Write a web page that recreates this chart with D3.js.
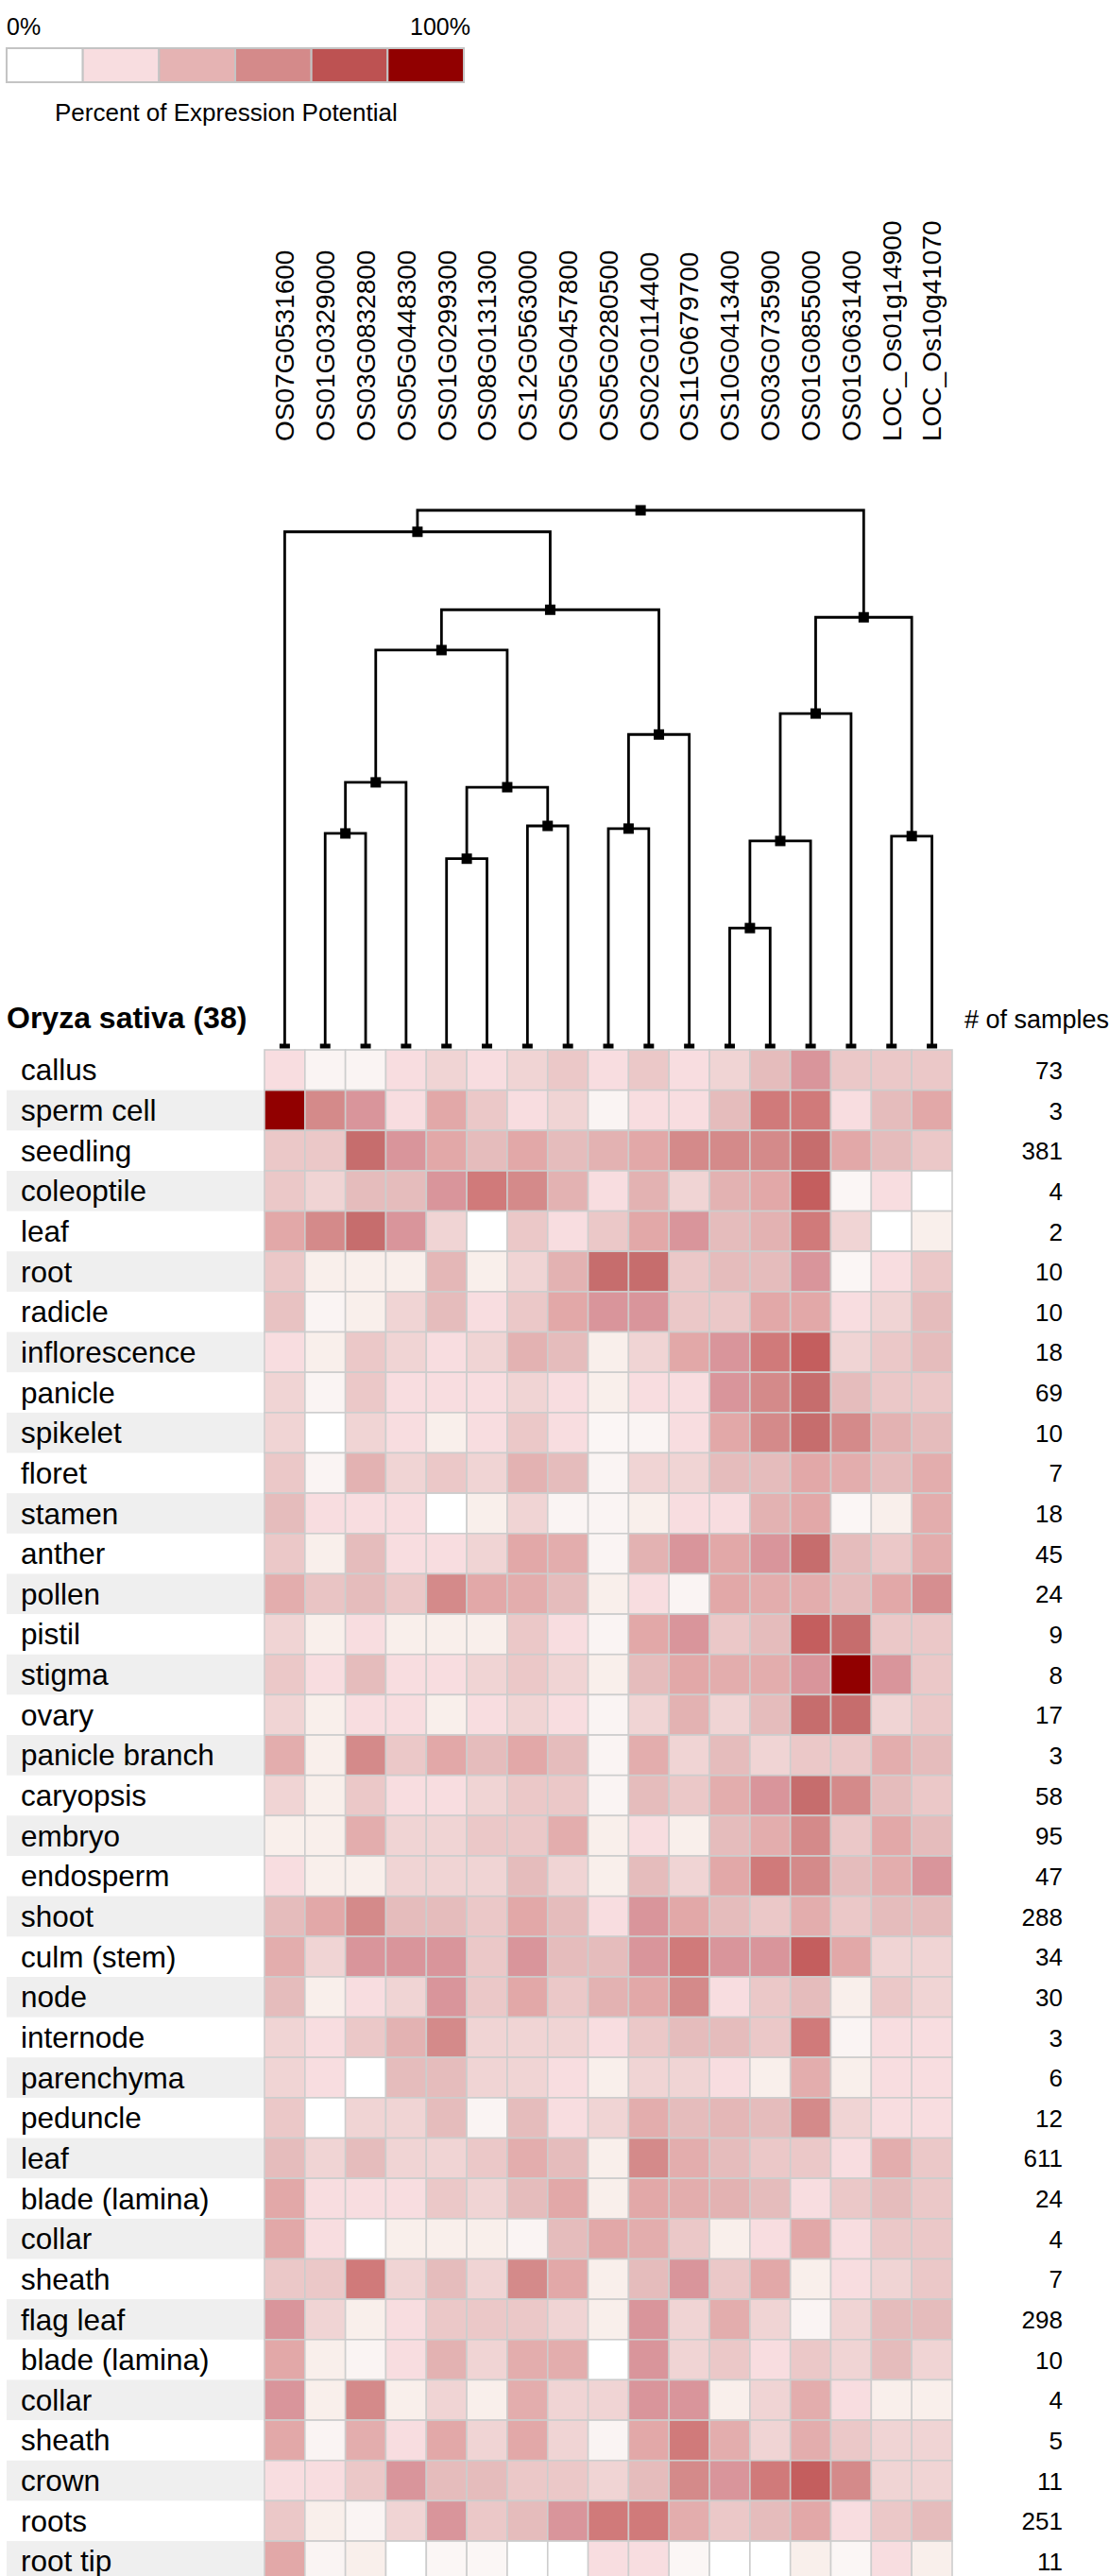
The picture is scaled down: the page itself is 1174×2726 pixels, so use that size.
<!DOCTYPE html>
<html>
<head>
<meta charset="utf-8">
<script src="https://cdn.jsdelivr.net/npm/d3@7"></script>
<style>
  body { margin: 0; background: #fff; }
  text { font-family: "Liberation Sans", Arial, sans-serif; fill: #000; }
</style>
</head>
<body>
<svg id="chart"></svg>
<script>
// genes (columns), in dendrogram order
var genes = ["OS07G0531600", "OS01G0329000", "OS03G0832800", "OS05G0448300", "OS01G0299300",
             "OS08G0131300", "OS12G0563000", "OS05G0457800", "OS05G0280500", "OS02G0114400",
             "OS11G0679700", "OS10G0413400", "OS03G0735900", "OS01G0855000", "OS01G0631400",
             "LOC_Os01g14900", "LOC_Os10g41070"];

var tissues = ["callus", "sperm cell", "seedling", "coleoptile", "leaf", "root", "radicle",
               "inflorescence", "panicle", "spikelet", "floret", "stamen", "anther", "pollen",
               "pistil", "stigma", "ovary", "panicle branch", "caryopsis", "embryo", "endosperm",
               "shoot", "culm (stem)", "node", "internode", "parenchyma", "peduncle", "leaf",
               "blade (lamina)", "collar", "sheath", "flag leaf", "blade (lamina)", "collar",
               "sheath", "crown", "roots", "root tip"];

var sampleCounts = [73, 3, 381, 4, 2, 10, 10, 18, 69, 10, 7, 18, 45, 24, 9, 8, 17, 3, 58, 95,
                    47, 288, 34, 30, 3, 6, 12, 611, 24, 4, 7, 298, 10, 4, 5, 11, 251, 11];

// percent of expression potential, one row per tissue
var expression = [
  [18, 5, 5, 18, 25, 18, 25, 30, 18, 30, 18, 25, 36, 52, 30, 30, 30],
  [100, 58, 52, 18, 44, 30, 18, 25, 5, 18, 18, 36, 66, 66, 18, 36, 44],
  [30, 30, 72, 52, 44, 36, 44, 36, 40, 44, 58, 58, 58, 72, 44, 36, 30],
  [30, 25, 36, 36, 52, 66, 58, 40, 18, 40, 25, 40, 44, 77, 4, 18, 0],
  [44, 58, 72, 52, 25, 0, 30, 18, 30, 44, 52, 36, 40, 66, 25, 0, 8],
  [30, 8, 8, 8, 38, 8, 25, 40, 72, 72, 30, 36, 36, 52, 4, 18, 30],
  [33, 5, 8, 25, 36, 18, 30, 44, 52, 52, 30, 30, 44, 44, 18, 25, 36],
  [18, 8, 30, 25, 18, 25, 40, 36, 8, 25, 44, 52, 66, 77, 25, 30, 36],
  [25, 5, 30, 18, 18, 18, 25, 18, 8, 18, 18, 52, 58, 72, 36, 30, 30],
  [25, 0, 25, 18, 8, 18, 30, 18, 4, 5, 18, 44, 58, 72, 58, 40, 36],
  [30, 5, 40, 25, 30, 25, 40, 36, 5, 25, 25, 36, 36, 44, 42, 36, 42],
  [36, 18, 18, 18, 0, 8, 25, 5, 5, 8, 18, 18, 40, 44, 4, 8, 42],
  [30, 8, 36, 18, 18, 25, 44, 42, 5, 40, 52, 44, 52, 72, 36, 30, 42],
  [42, 32, 36, 30, 58, 44, 42, 36, 8, 18, 5, 44, 42, 42, 36, 44, 56],
  [25, 8, 18, 8, 8, 8, 30, 18, 5, 44, 52, 30, 36, 77, 72, 30, 30],
  [30, 18, 36, 18, 18, 25, 30, 25, 8, 36, 44, 42, 42, 52, 100, 52, 30],
  [25, 8, 18, 18, 8, 18, 25, 18, 5, 25, 40, 25, 36, 72, 72, 25, 30],
  [42, 8, 58, 30, 44, 36, 44, 36, 5, 42, 25, 36, 25, 30, 30, 42, 36],
  [25, 8, 30, 18, 18, 25, 30, 30, 5, 36, 30, 42, 52, 72, 58, 36, 30],
  [8, 8, 42, 25, 25, 30, 30, 42, 8, 18, 8, 36, 42, 58, 30, 44, 36],
  [18, 8, 8, 25, 25, 25, 36, 25, 8, 36, 25, 44, 66, 58, 36, 42, 52],
  [36, 44, 58, 36, 36, 30, 44, 36, 18, 52, 44, 36, 30, 42, 30, 36, 36],
  [42, 25, 52, 52, 52, 30, 52, 36, 36, 52, 66, 52, 52, 77, 44, 25, 25],
  [36, 8, 18, 25, 52, 30, 44, 30, 40, 44, 58, 18, 30, 36, 8, 30, 25],
  [25, 18, 30, 40, 58, 25, 25, 25, 18, 30, 36, 36, 30, 66, 5, 18, 18],
  [25, 18, 0, 36, 36, 25, 25, 18, 8, 25, 25, 18, 8, 42, 8, 18, 18],
  [30, 0, 25, 25, 36, 5, 36, 18, 25, 42, 36, 38, 36, 58, 25, 18, 18],
  [36, 25, 36, 25, 25, 30, 42, 36, 8, 58, 42, 36, 30, 30, 18, 42, 30],
  [44, 18, 18, 18, 30, 25, 36, 44, 8, 44, 42, 40, 36, 18, 30, 36, 30],
  [44, 18, 0, 8, 8, 8, 5, 36, 44, 42, 30, 8, 18, 44, 18, 30, 30],
  [30, 30, 66, 25, 36, 25, 58, 44, 8, 36, 52, 30, 44, 8, 18, 25, 30],
  [52, 25, 8, 18, 30, 30, 30, 25, 8, 52, 25, 42, 25, 5, 25, 36, 36],
  [44, 8, 5, 18, 40, 25, 42, 42, 0, 52, 25, 30, 18, 30, 25, 36, 25],
  [52, 8, 58, 8, 25, 8, 42, 25, 25, 52, 52, 8, 25, 42, 18, 8, 8],
  [44, 5, 42, 18, 44, 25, 44, 25, 5, 44, 66, 42, 25, 42, 30, 25, 25],
  [18, 18, 30, 52, 36, 36, 30, 30, 25, 36, 58, 52, 66, 77, 58, 25, 25],
  [30, 8, 5, 25, 52, 30, 36, 52, 66, 66, 42, 30, 36, 44, 18, 30, 36],
  [44, 5, 8, 0, 4, 4, 0, 0, 18, 18, 4, 0, 0, 8, 4, 18, 8]
];

// hclust style merges: negative = leaf (gene index + 1), positive = earlier merge step
var mergeLeft   = [-12, -5, 1, -16, -2, -9, -7, 2, 5, 6, 3, 9, 11, 12, -1, 15];
var mergeRight  = [-13, -6, -14, -17, -3, -10, -8, 7, -4, -11, -15, 8, 4, 10, 14, 13];
var mergeHeight = [0.223, 0.352, 0.385, 0.394, 0.399, 0.408, 0.413, 0.485, 0.494,
                   0.583, 0.622, 0.74, 0.801, 0.815, 0.96, 1.0];

var legendLabels = ["0%", "100%"];
var legendColors = ["#ffffff", "#f8dde0", "#e5b3b3", "#d48a8a", "#bd5252", "#910000"];

var width = 1174, height = 2726;
var gridTop = 1111, rowH = 42.65;

var svg = d3.select("#chart").attr("width", width).attr("height", height);

var color = d3.scaleLinear()
    .domain([0, 5, 10, 18, 25, 30, 36, 40, 44, 52, 58, 66, 72, 77, 100])
    .range(["#ffffff", "#faf4f3", "#f8ebe6", "#f8dde0", "#f0d4d4", "#ebc8c8", "#e5bcbc", "#e3b2b2",
            "#e2a8a8", "#d9959b", "#d48a8a", "#d07a7a", "#c66d6d", "#c45e5e", "#910000"]);

var x = d3.scaleBand().domain(genes).range([280, 1008]);
var y = d3.scaleBand().domain(d3.range(tissues.length))
    .range([gridTop, gridTop + tissues.length * rowH]);
var yd = d3.scaleLinear().domain([0, 1]).range([1109, 540]);

// legend
var lx = d3.scaleBand().domain(d3.range(legendColors.length)).range([7, 491]);
svg.selectAll(".leg").data(legendColors).enter().append("rect")
    .attr("x", function(d, i) { return lx(i); })
    .attr("y", 51)
    .attr("width", lx.bandwidth())
    .attr("height", 36)
    .attr("fill", function(d) { return d; })
    .attr("stroke", "#c4c4c4")
    .attr("stroke-width", 2);
svg.append("text").attr("x", 7).attr("y", 37).style("font-size", "25px").text(legendLabels[0]);
svg.append("text").attr("x", 498).attr("y", 37).attr("text-anchor", "end")
    .style("font-size", "25px").text(legendLabels[1]);
svg.append("text").attr("x", 58).attr("y", 128).style("font-size", "26px")
    .text("Percent of Expression Potential");

// column labels
svg.selectAll(".gene").data(genes).enter().append("text")
    .attr("transform", function(d) {
      return "translate(" + (x(d) + x.bandwidth() / 2) + ",467) rotate(-90)";
    })
    .attr("dy", "0.35em")
    .style("font-size", "28px")
    .text(function(d) { return d; });

// dendrogram
var nodes = [];
function nx(ref) { return ref < 0 ? x(genes[-ref - 1]) + x.bandwidth() / 2 : nodes[ref].x; }
function ny(ref) { return ref < 0 ? yd(0) : nodes[ref].y; }
mergeHeight.forEach(function(h, i) {
  var l = mergeLeft[i], r = mergeRight[i];
  nodes[i + 1] = {x: (nx(l) + nx(r)) / 2, y: yd(h), l: l, r: r};
});
var dendro = svg.append("g");
nodes.slice(1).forEach(function(n) {
  dendro.append("path")
      .attr("d", "M" + nx(n.l) + "," + ny(n.l) + "V" + n.y + "H" + nx(n.r) + "V" + ny(n.r))
      .attr("fill", "none")
      .attr("stroke", "#000")
      .attr("stroke-width", 2.8);
});
dendro.selectAll(".node").data(nodes.slice(1)).enter().append("rect")
    .attr("x", function(d) { return d.x - 5.5; })
    .attr("y", function(d) { return d.y - 5.5; })
    .attr("width", 11).attr("height", 11)
    .attr("fill", "#000");
dendro.selectAll(".leaf").data(genes).enter().append("rect")
    .attr("x", function(d) { return x(d) + x.bandwidth() / 2 - 5.5; })
    .attr("y", 1104.5)
    .attr("width", 11).attr("height", 5)
    .attr("fill", "#000");

// headers
svg.append("text").attr("x", 7).attr("y", 1088)
    .style("font-size", "32px").style("font-weight", "bold").text("Oryza sativa (38)");
svg.append("text").attr("x", 1021).attr("y", 1088).style("font-size", "27px").text("# of samples");

// row stripes
svg.selectAll(".stripe").data(d3.range(tissues.length).filter(function(i) { return i % 2 == 1; }))
  .enter().append("rect")
    .attr("x", 7).attr("y", function(i) { return y(i); })
    .attr("width", 273).attr("height", rowH)
    .attr("fill", "#efefef");

// row labels and counts
svg.selectAll(".tissue").data(tissues).enter().append("text")
    .attr("x", 22)
    .attr("y", function(d, i) { return y(i) + rowH / 2; })
    .attr("dy", "0.35em")
    .style("font-size", "31.5px")
    .text(function(d) { return d; });
svg.selectAll(".count").data(sampleCounts).enter().append("text")
    .attr("x", 1125)
    .attr("y", function(d, i) { return y(i) + rowH / 2; })
    .attr("dy", "0.37em")
    .attr("text-anchor", "end")
    .style("font-size", "26px")
    .text(function(d) { return d; });

// heatmap cells
var rows = svg.selectAll(".row").data(expression).enter().append("g")
    .attr("transform", function(d, i) { return "translate(0," + y(i) + ")"; });
rows.selectAll("rect").data(function(d) { return d; }).enter().append("rect")
    .attr("x", function(d, j) { return x(genes[j]); })
    .attr("width", x.bandwidth())
    .attr("height", rowH)
    .attr("fill", function(d) { return color(d); })
    .attr("stroke", "#cdcdcd")
    .attr("stroke-width", 1.6);
</script>
</body>
</html>
